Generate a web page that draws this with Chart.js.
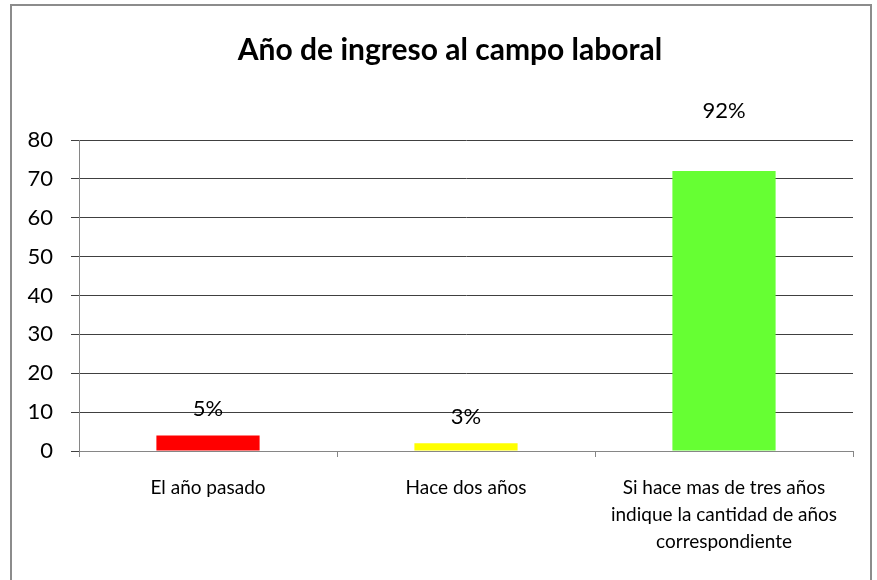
<!DOCTYPE html>
<html>
<head>
<meta charset="utf-8">
<script src="https://cdn.jsdelivr.net/npm/chart.js@4/dist/chart.umd.min.js"></script>
<style>
    html, body { margin: 0; padding: 0; background: #fff; }
    #wrap { position: relative; width: 877px; height: 580px; }
    #frame { position: absolute; left: 10px; top: 4px; width: 862px; height: 590px; border: 2px solid #8c8c8c; box-sizing: border-box; }
    canvas { position: absolute; left: 0; top: 0; }
</style>
</head>
<body>
<div id="wrap">
    <div id="frame"></div>
    <canvas id="grafico" width="877" height="580"></canvas>
</div>
<script>
var categorias = [
    'El año pasado',
    'Hace dos años',
    ['Si hace mas de tres años', 'indique la cantidad de años', 'correspondiente']
];
var valores = [4, 2, 72];
var porcentajes = ['5%', '3%', '92%'];
// altura (en unidades del eje) donde Excel dejó cada etiqueta
var alturaEtiqueta = [10.9, 8.7, 87.4];
var colores = ['#ff0000', '#ffff00', '#66ff33'];

var fuente = 'Lato, "Open Sans", sans-serif';

var etiquetas = {
    id: 'etiquetas',
    afterLayout: function (chart) {
        // el título de Excel va centrado en todo el marco, no solo en el área
        if (chart.titleBlock) {
            chart.titleBlock.left = 47;
        }
    },
    afterDatasetsDraw: function (chart) {
        var ctx = chart.ctx;
        var meta = chart.getDatasetMeta(0);
        var y = chart.scales.y;
        ctx.save();
        ctx.font = '22px ' + fuente;
        ctx.fillStyle = '#000';
        ctx.textAlign = 'center';
        ctx.textBaseline = 'middle';
        meta.data.forEach(function (barra, i) {
            ctx.fillText(porcentajes[i], barra.x, y.getPixelForValue(alturaEtiqueta[i]));
        });
        ctx.restore();
    }
};

new Chart(document.getElementById('grafico').getContext('2d'), {
    type: 'bar',
    data: {
        labels: categorias,
        datasets: [{
            data: valores,
            backgroundColor: colores,
            borderWidth: 0,
            barPercentage: 0.4,
            categoryPercentage: 1
        }]
    },
    options: {
        responsive: false,
        animation: false,
        layout: { padding: { left: 0, right: 24, top: 0, bottom: 0 } },
        plugins: {
            legend: { display: false },
            tooltip: { enabled: false },
            title: {
                display: true,
                text: 'Año de ingreso al campo laboral',
                color: '#000',
                font: { family: fuente, size: 30, weight: 'bold', lineHeight: 1.2 },
                padding: { top: 32, bottom: 72 }
            }
        },
        scales: {
            x: {
                offset: true,
                grid: { offset: true, drawOnChartArea: false, drawTicks: true, tickLength: 6, color: '#868686' },
                border: { color: '#868686', width: 1 },
                ticks: {
                    color: '#000',
                    padding: 17,
                    maxRotation: 0,
                    autoSkip: false,
                    font: { family: fuente, size: 19, lineHeight: 1.42 }
                },
                afterFit: function (scale) { scale.height = 129; }
            },
            y: {
                min: 0,
                max: 80,
                grid: { color: '#404040', tickLength: 8, lineWidth: 1 },
                border: { color: '#868686', width: 1 },
                ticks: {
                    stepSize: 10,
                    color: '#000',
                    padding: 18,
                    font: { family: fuente, size: 22 }
                },
                afterFit: function (scale) { scale.width = 79; }
            }
        }
    },
    plugins: [etiquetas]
});
</script>
</body>
</html>
